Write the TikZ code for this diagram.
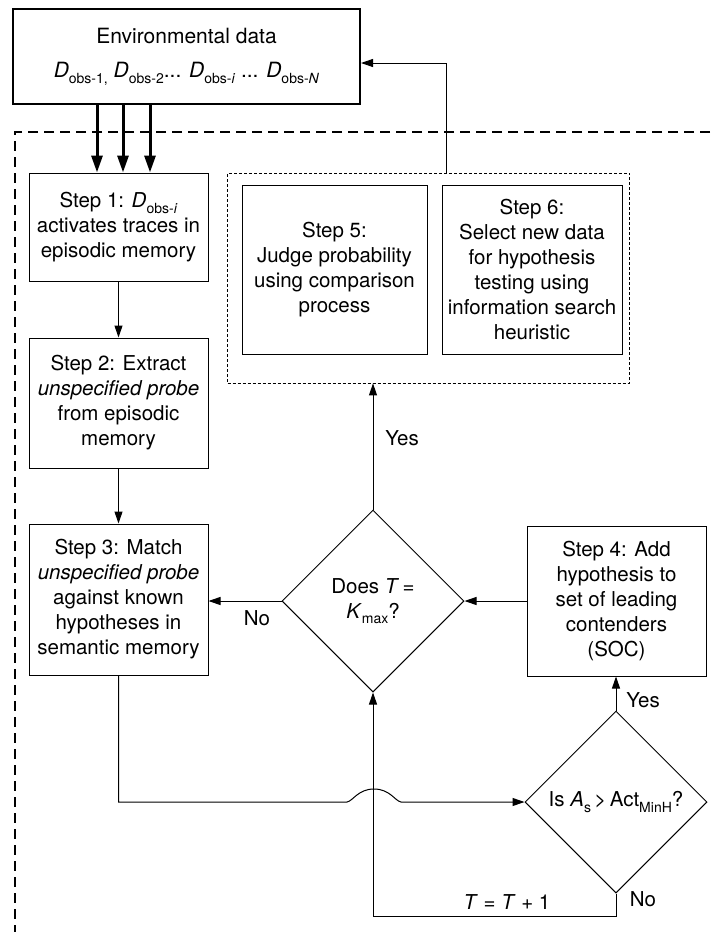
\documentclass[tikz,border=0pt]{standalone}
\usepackage{fontspec}
\setmainfont{TeX Gyre Heros}
\usetikzlibrary{shapes.geometric, arrows.meta}

% lowered, smaller text for subscripts in running text
\newcommand\sbs[1]{\raisebox{-0.28em}{\fontsize{14}{14}\selectfont #1}}

\begin{document}
\begin{tikzpicture}[x=1pt, y=-1pt,
  every node/.style={font=\fontsize{20.5}{25}\selectfont},
  stepbox/.style={draw, line width=1pt, align=center, inner sep=0pt},
  decision/.style={draw, diamond, aspect=1, line width=1pt, align=center,
    inner sep=0pt, minimum width=182pt, minimum height=182pt},
  arr/.style={line width=1pt, -{Triangle[length=12pt, width=8pt]}},
  thickarr/.style={line width=3pt, -{Triangle[length=17pt, width=11pt]}},
  lbl/.style={inner sep=0pt}
]
\useasboundingbox (0,0) rectangle (710,932);

% outer dashed frame
\draw[line width=2pt, dash pattern=on 10pt off 6pt] (710,132) -- (15,132) -- (15,932);

% environmental data
\node[draw, line width=2pt, minimum width=347pt, minimum height=95pt, align=center,
  inner sep=0pt, font=\fontsize{21}{34}\selectfont] (env) at (186.5,56.5)
  {Environmental data\\
   \textit{D}\sbs{obs-1,} \textit{D}\sbs{obs-2}... \textit{D}\sbs{obs-\textit{i}} ... \textit{D}\sbs{obs-\textit{N}}};

% left column
\node[stepbox, minimum width=179pt, minimum height=108pt] (step1) at (118.5,227)
  {Step 1: \textit{D}\sbs{obs-\textit{i}}\\activates traces in\\episodic memory};
\node[stepbox, minimum width=179pt, minimum height=130pt] (step2) at (118.5,403)
  {Step 2: Extract\\\textit{unspecified probe}\\from episodic\\memory};
\node[stepbox, minimum width=179pt, minimum height=151pt] (step3) at (118.5,599.5)
  {Step 3: Match\\\textit{unspecified probe}\\against known\\hypotheses in\\semantic memory};

% output group
\node[draw, line width=0.8pt, dash pattern=on 3pt off 2pt, minimum width=402pt,
  minimum height=210pt, inner sep=0pt] (grp) at (428.5,278) {};
\node[stepbox, minimum width=185pt, minimum height=169pt] (step5) at (334.5,269.5)
  {Step 5:\\Judge probability\\using comparison\\process};
\node[stepbox, minimum width=180pt, minimum height=169pt] (step6) at (532,269.5)
  {Step 6:\\Select new data\\for hypothesis\\testing using\\information search\\heuristic};

% decisions and step 4
\node[decision] (d1) at (373,601) {Does \textit{T}\,=\\\textit{K}\sbs{max}?};
\node[stepbox, minimum width=179pt, minimum height=150pt] (step4) at (616.5,601)
  {Step 4: Add\\hypothesis to\\set of leading\\contenders\\(SOC)};
\node[decision] (d2) at (616,802) {Is \textit{A}\sbs{s}\,>\,Act\sbs{MinH}?};

% routing points
\coordinate (a1) at (97,0);
\coordinate (a2) at (123,0);
\coordinate (a3) at (150,0);
\coordinate (ret) at (446,63);
\coordinate (hopL) at (347,802);
\coordinate (hopT) at (374,789);
\coordinate (hopR) at (401,802);
\coordinate (lp) at (0,916);

% connectors
\foreach \c in {a1,a2,a3}
  \draw[thickarr] (env.south -| \c) -- (step1.north -| \c);
\draw[arr] (step1) -- (step2);
\draw[arr] (step2) -- (step3);
\draw[arr] (d1.west) -- (d1.west -| step3.east);
\draw[arr] (step4) -- (d1);
\draw[arr] (d1.north) -- (d1.north |- grp.south);
\draw[arr] (d2.north) -- (d2.north |- step4.south);
\draw[arr] (grp.north -| ret) -- (ret) -- (env.east |- ret);
\draw[arr] (step3.south) -- (step3.south |- hopL) -- (hopL)
  .. controls (353,801) and (358,789) .. (hopT)
  .. controls (390,789) and (395,801) .. (hopR) -- (d2.west);
\draw[arr] (d2.south) -- (d2.south |- lp) -- (d1.south |- lp) -- (d1.south);

% branch labels
\node[lbl] (no1) at (257,618) {No};
\node[lbl] (yes1) at (402,438) {Yes};
\node[lbl] (yes2) at (643,700) {Yes};
\node[lbl] (no2) at (643,899) {No};
\node[lbl] (inc) at (507,902) {\textit{T} = \textit{T} + 1};
\end{tikzpicture}
\end{document}
